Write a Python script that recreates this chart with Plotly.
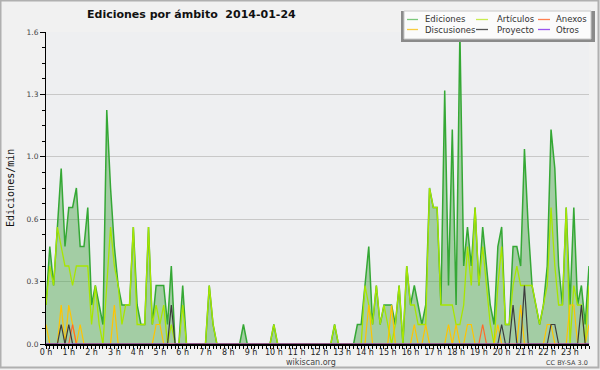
import plotly.graph_objects as go

# ---- data (10-minute steps, edits per minute) ----
minutes = list(range(0, 1440, 10))

ediciones = [
    0.2, 0.5, 0.3, 0.6, 0.9, 0.5,   # 0h
    0.7, 0.7, 0.8, 0.5, 0.5, 0.7,   # 1h
    0.2, 0.3, 0.2, 0.1, 1.2, 0.8,   # 2h
    0.5, 0.3, 0.2, 0.2, 0.2, 0.6,   # 3h
    0.2, 0.1, 0.1, 0.6, 0.1, 0.3,   # 4h
    0.3, 0.3, 0.1, 0.4, 0.0, 0.0,   # 5h
    0.3, 0.0, 0.0, 0.0, 0.0, 0.0,   # 6h
    0.0, 0.3, 0.1, 0.0, 0.0, 0.0,   # 7h
    0.0, 0.0, 0.0, 0.0, 0.1, 0.0,   # 8h
    0.0, 0.0, 0.0, 0.0, 0.0, 0.0,   # 9h
    0.1, 0.0, 0.0, 0.0, 0.0, 0.0,   # 10h
    0.0, 0.0, 0.0, 0.0, 0.0, 0.0,   # 11h
    0.0, 0.0, 0.0, 0.0, 0.1, 0.0,   # 12h
    0.0, 0.0, 0.0, 0.0, 0.1, 0.1,   # 13h
    0.3, 0.5, 0.1, 0.3, 0.1, 0.2,   # 14h
    0.2, 0.2, 0.1, 0.3, 0.0, 0.4,   # 15h
    0.2, 0.3, 0.2, 0.1, 0.2, 0.8,   # 16h
    0.7, 0.7, 0.2, 1.3, 0.3, 1.1,   # 17h
    0.2, 1.6, 0.4, 0.6, 0.4, 0.7,   # 18h
    0.3, 0.6, 0.4, 0.2, 0.1, 0.5,   # 19h
    0.6, 0.1, 0.1, 0.5, 0.5, 0.4,   # 20h
    1.0, 0.6, 0.3, 0.2, 0.1, 0.2,   # 21h
    0.4, 1.1, 0.9, 0.4, 0.2, 0.7,   # 22h
    0.2, 0.7, 0.2, 0.3, 0.1, 0.4,   # 23h
]

articulos = [
    0.2, 0.4, 0.3, 0.6, 0.5, 0.4,   # 0h
    0.4, 0.3, 0.4, 0.4, 0.4, 0.4,   # 1h
    0.1, 0.3, 0.1, 0.0, 0.3, 0.6,   # 2h
    0.4, 0.3, 0.1, 0.2, 0.2, 0.6,   # 3h
    0.1, 0.1, 0.1, 0.6, 0.1, 0.2,   # 4h
    0.1, 0.2, 0.0, 0.1, 0.0, 0.0,   # 5h
    0.2, 0.0, 0.0, 0.0, 0.0, 0.0,   # 6h
    0.0, 0.3, 0.1, 0.0, 0.0, 0.0,   # 7h
    0.0, 0.0, 0.0, 0.0, 0.0, 0.0,   # 8h
    0.0, 0.0, 0.0, 0.0, 0.0, 0.0,   # 9h
    0.1, 0.0, 0.0, 0.0, 0.0, 0.0,   # 10h
    0.0, 0.0, 0.0, 0.0, 0.0, 0.0,   # 11h
    0.0, 0.0, 0.0, 0.0, 0.1, 0.0,   # 12h
    0.0, 0.0, 0.0, 0.0, 0.0, 0.0,   # 13h
    0.3, 0.2, 0.1, 0.3, 0.1, 0.2,   # 14h
    0.1, 0.0, 0.1, 0.3, 0.0, 0.4,   # 15h
    0.2, 0.2, 0.1, 0.1, 0.1, 0.8,   # 16h
    0.7, 0.7, 0.2, 0.2, 0.2, 0.2,   # 17h
    0.1, 0.1, 0.2, 0.5, 0.3, 0.7,   # 18h
    0.3, 0.5, 0.3, 0.1, 0.0, 0.3,   # 19h
    0.5, 0.1, 0.1, 0.3, 0.4, 0.3,   # 20h
    0.3, 0.3, 0.3, 0.2, 0.1, 0.2,   # 21h
    0.3, 0.7, 0.4, 0.2, 0.2, 0.7,   # 22h
    0.0, 0.3, 0.2, 0.2, 0.0, 0.3,   # 23h
]

discusiones = [
    0.1, 0.0, 0.0, 0.0, 0.2, 0.0,   # 0h
    0.2, 0.1, 0.0, 0.1, 0.0, 0.0,   # 1h
    0.0, 0.0, 0.0, 0.0, 0.0, 0.0,   # 2h
    0.2, 0.0, 0.0, 0.0, 0.0, 0.0,   # 3h
    0.0, 0.0, 0.0, 0.0, 0.0, 0.1,   # 4h
    0.1, 0.0, 0.0, 0.0, 0.0, 0.0,   # 5h
    0.0, 0.0, 0.0, 0.0, 0.0, 0.0,   # 6h
    0.0, 0.0, 0.0, 0.0, 0.0, 0.0,   # 7h
    0.0, 0.0, 0.0, 0.0, 0.0, 0.0,   # 8h
    0.0, 0.0, 0.0, 0.0, 0.0, 0.0,   # 9h
    0.0, 0.0, 0.0, 0.0, 0.0, 0.0,   # 10h
    0.0, 0.0, 0.0, 0.0, 0.0, 0.0,   # 11h
    0.0, 0.0, 0.0, 0.0, 0.0, 0.0,   # 12h
    0.0, 0.0, 0.0, 0.0, 0.0, 0.0,   # 13h
    0.0, 0.2, 0.0, 0.0, 0.0, 0.0,   # 14h
    0.0, 0.2, 0.0, 0.0, 0.0, 0.0,   # 15h
    0.0, 0.1, 0.0, 0.0, 0.1, 0.0,   # 16h
    0.0, 0.0, 0.0, 0.0, 0.1, 0.0,   # 17h
    0.1, 0.0, 0.0, 0.1, 0.1, 0.0,   # 18h
    0.0, 0.0, 0.0, 0.0, 0.0, 0.1,   # 19h
    0.0, 0.0, 0.0, 0.0, 0.0, 0.2,   # 20h
    0.0, 0.0, 0.0, 0.0, 0.0, 0.0,   # 21h
    0.1, 0.1, 0.0, 0.0, 0.0, 0.0,   # 22h
    0.2, 0.2, 0.0, 0.0, 0.0, 0.1,   # 23h
]

anexos = [
    0.0, 0.0, 0.0, 0.0, 0.0, 0.0,   # 0h
    0.0, 0.1, 0.0, 0.0, 0.0, 0.0,   # 1h
    0.0, 0.0, 0.0, 0.0, 0.0, 0.0,   # 2h
    0.0, 0.0, 0.0, 0.0, 0.0, 0.0,   # 3h
    0.0, 0.0, 0.0, 0.0, 0.0, 0.0,   # 4h
    0.0, 0.0, 0.0, 0.0, 0.0, 0.0,   # 5h
    0.0, 0.0, 0.0, 0.0, 0.0, 0.0,   # 6h
    0.0, 0.0, 0.0, 0.0, 0.0, 0.0,   # 7h
    0.0, 0.0, 0.0, 0.0, 0.0, 0.0,   # 8h
    0.0, 0.0, 0.0, 0.0, 0.0, 0.0,   # 9h
    0.0, 0.0, 0.0, 0.0, 0.0, 0.0,   # 10h
    0.0, 0.0, 0.0, 0.0, 0.0, 0.0,   # 11h
    0.0, 0.0, 0.0, 0.0, 0.0, 0.0,   # 12h
    0.0, 0.0, 0.0, 0.0, 0.0, 0.0,   # 13h
    0.0, 0.0, 0.0, 0.0, 0.0, 0.0,   # 14h
    0.0, 0.0, 0.0, 0.0, 0.0, 0.0,   # 15h
    0.0, 0.0, 0.0, 0.0, 0.0, 0.0,   # 16h
    0.0, 0.0, 0.0, 0.0, 0.0, 0.0,   # 17h
    0.0, 0.0, 0.0, 0.0, 0.0, 0.0,   # 18h
    0.0, 0.1, 0.0, 0.0, 0.0, 0.0,   # 19h
    0.0, 0.0, 0.0, 0.0, 0.0, 0.0,   # 20h
    0.0, 0.0, 0.0, 0.0, 0.0, 0.0,   # 21h
    0.0, 0.0, 0.0, 0.0, 0.0, 0.0,   # 22h
    0.0, 0.0, 0.0, 0.0, 0.0, 0.0,   # 23h
]

proyecto = [
    0.0, 0.0, 0.0, 0.0, 0.1, 0.0,   # 0h
    0.1, 0.0, 0.0, 0.0, 0.0, 0.0,   # 1h
    0.0, 0.0, 0.0, 0.0, 0.0, 0.0,   # 2h
    0.0, 0.0, 0.0, 0.0, 0.0, 0.0,   # 3h
    0.0, 0.0, 0.0, 0.0, 0.0, 0.0,   # 4h
    0.0, 0.0, 0.0, 0.2, 0.0, 0.0,   # 5h
    0.0, 0.0, 0.0, 0.0, 0.0, 0.0,   # 6h
    0.0, 0.0, 0.0, 0.0, 0.0, 0.0,   # 7h
    0.0, 0.0, 0.0, 0.0, 0.0, 0.0,   # 8h
    0.0, 0.0, 0.0, 0.0, 0.0, 0.0,   # 9h
    0.0, 0.0, 0.0, 0.0, 0.0, 0.0,   # 10h
    0.0, 0.0, 0.0, 0.0, 0.0, 0.0,   # 11h
    0.0, 0.0, 0.0, 0.0, 0.0, 0.0,   # 12h
    0.0, 0.0, 0.0, 0.0, 0.0, 0.0,   # 13h
    0.0, 0.0, 0.0, 0.0, 0.0, 0.0,   # 14h
    0.0, 0.0, 0.0, 0.0, 0.0, 0.0,   # 15h
    0.0, 0.0, 0.0, 0.0, 0.0, 0.0,   # 16h
    0.0, 0.0, 0.0, 0.0, 0.0, 0.0,   # 17h
    0.0, 0.0, 0.0, 0.0, 0.0, 0.0,   # 18h
    0.0, 0.0, 0.0, 0.0, 0.0, 0.0,   # 19h
    0.1, 0.0, 0.0, 0.2, 0.0, 0.0,   # 20h
    0.3, 0.0, 0.0, 0.0, 0.0, 0.0,   # 21h
    0.0, 0.1, 0.1, 0.0, 0.0, 0.0,   # 22h
    0.0, 0.0, 0.0, 0.2, 0.0, 0.0,   # 23h
]

otros = [
    0.0, 0.0, 0.0, 0.0, 0.0, 0.0, 0.0, 0.0, 0.0, 0.0, 0.0, 0.0,
    0.0, 0.0, 0.0, 0.0, 0.0, 0.0, 0.0, 0.0, 0.0, 0.0, 0.0, 0.0,
    0.0, 0.0, 0.0, 0.0, 0.0, 0.0, 0.0, 0.0, 0.0, 0.0, 0.0, 0.0,
    0.0, 0.0, 0.0, 0.0, 0.0, 0.0, 0.0, 0.0, 0.0, 0.0, 0.0, 0.0,
    0.0, 0.0, 0.0, 0.0, 0.0, 0.0, 0.0, 0.0, 0.0, 0.0, 0.0, 0.0,
    0.0, 0.0, 0.0, 0.0, 0.0, 0.0, 0.0, 0.0, 0.0, 0.0, 0.0, 0.0,
    0.0, 0.0, 0.0, 0.0, 0.0, 0.0, 0.0, 0.0, 0.0, 0.0, 0.0, 0.0,
    0.0, 0.0, 0.0, 0.0, 0.0, 0.0, 0.0, 0.0, 0.0, 0.0, 0.0, 0.0,
    0.0, 0.0, 0.0, 0.0, 0.0, 0.0, 0.0, 0.0, 0.0, 0.0, 0.0, 0.0,
    0.0, 0.0, 0.0, 0.0, 0.0, 0.0, 0.0, 0.0, 0.0, 0.0, 0.0, 0.0,
    0.0, 0.0, 0.0, 0.0, 0.0, 0.0, 0.0, 0.0, 0.0, 0.0, 0.0, 0.0,
    0.0, 0.0, 0.0, 0.0, 0.0, 0.0, 0.0, 0.0, 0.0, 0.0, 0.0, 0.0,
]

hour_ticks = [0, 60, 120, 180, 240, 300, 360, 420, 480, 540, 600, 660,
              720, 780, 840, 900, 960, 1020, 1080, 1140, 1200, 1260, 1320, 1380]
hour_labels = ["0 h", "1 h", "2 h", "3 h", "4 h", "5 h", "6 h", "7 h", "8 h",
               "9 h", "10 h", "11 h", "12 h", "13 h", "14 h", "15 h", "16 h",
               "17 h", "18 h", "19 h", "20 h", "21 h", "22 h", "23 h"]
y_ticks = [0.0, 0.32, 0.64, 0.96, 1.28, 1.6]
y_labels = ["0.0", "0.3", "0.6", "1.0", "1.3", "1.6"]

legend_names = [["Ediciones", "Artículos", "Anexos"],
                ["Discusiones", "Proyecto", "Otros"]]

# ---- layout geometry (pixels) ----
W, H = 600, 370
L, R, T, B = 46, 11, 32, 26
PW, PH = W - L - R, H - T - B


def px(x):
    return (x - L) / PW


def py(y):
    return (H - B - y) / PH


C_ED_LINE = "#35a835"
C_ED_FILL = "rgba(70,165,70,0.45)"
C_ART = "#a8e600"
C_DIS = "#ffc400"
C_ANX = "#ff6a2a"
C_PRO = "#3c3c3c"
C_OTR = "#9a4cf0"

fig = go.Figure()
fig.add_trace(go.Scatter(x=minutes, y=ediciones, mode="lines", fill="tozeroy",
                         fillcolor=C_ED_FILL, line=dict(color=C_ED_LINE, width=1.5),
                         name="Ediciones", showlegend=False))
fig.add_trace(go.Scatter(x=minutes, y=articulos, mode="lines",
                         line=dict(color=C_ART, width=1.3), name="Artículos", showlegend=False))
fig.add_trace(go.Scatter(x=minutes, y=discusiones, mode="lines",
                         line=dict(color=C_DIS, width=1.2), name="Discusiones", showlegend=False))
fig.add_trace(go.Scatter(x=minutes, y=anexos, mode="lines",
                         line=dict(color=C_ANX, width=1.2), name="Anexos", showlegend=False))
fig.add_trace(go.Scatter(x=minutes, y=proyecto, mode="lines",
                         line=dict(color=C_PRO, width=1.2), name="Proyecto", showlegend=False))
fig.add_trace(go.Scatter(x=minutes, y=otros, mode="lines",
                         line=dict(color=C_OTR, width=1.2), name="Otros", showlegend=False))

shapes = []
annotations = []

# outer frame
shapes.append(dict(type="rect", xref="paper", yref="paper",
                   x0=px(0.5), x1=px(598.5), y0=py(0.5), y1=py(367.5),
                   line=dict(color="#b0b0b0", width=2), fillcolor="rgba(0,0,0,0)", layer="below"))

# legend box with shadow
shapes.append(dict(type="rect", xref="paper", yref="paper",
                   x0=px(401), x1=px(595), y0=py(11), y1=py(42),
                   line=dict(width=0), fillcolor="#8a8a8a", layer="above"))
shapes.append(dict(type="rect", xref="paper", yref="paper",
                   x0=px(404), x1=px(591), y0=py(11), y1=py(39),
                   line=dict(color="#c8c8c8", width=1), fillcolor="#fbfbfb", layer="above"))

legend_colors = [["#7cc87c", "#c8ec50", "#ff8050"],
                 ["#f8cc40", "#555555", "#9a55ee"]]
col_sw = [(407, 418), (476, 488), (538, 550)]
col_tx = [423, 495, 554]
row_y = [19.5, 29.5]
for r in range(2):
    for c in range(3):
        shapes.append(dict(type="line", xref="paper", yref="paper",
                           x0=px(col_sw[c][0]), x1=px(col_sw[c][1]),
                           y0=py(row_y[r]), y1=py(row_y[r]),
                           line=dict(color=legend_colors[r][c], width=1.3), layer="above"))
        annotations.append(dict(text=legend_names[r][c], xref="paper", yref="paper",
                                x=px(col_tx[c]), y=py(row_y[r]), xanchor="left", yanchor="middle",
                                showarrow=False,
                                font=dict(family="DejaVu Sans", size=8.5, color="#333333")))

# title
annotations.append(dict(text="Ediciones por ámbito \u00a02014-01-24", xref="paper", yref="paper",
                        x=px(85), y=py(15), xanchor="left", yanchor="middle", showarrow=False,
                        font=dict(family="DejaVu Sans", size=11, color="#111111", weight="bold")))
# y axis title
annotations.append(dict(text="Ediciones/min", xref="paper", yref="paper",
                        x=px(10), y=py(188), xanchor="center", yanchor="middle", showarrow=False,
                        textangle=-90,
                        font=dict(family="DejaVu Sans Mono", size=10, color="#111111")))
# footer texts
annotations.append(dict(text="wikiscan.org", xref="paper", yref="paper",
                        x=px(311), y=py(362.5), xanchor="center", yanchor="middle", showarrow=False,
                        font=dict(family="DejaVu Sans", size=8, color="#444444")))
annotations.append(dict(text="CC BY-SA 3.0", xref="paper", yref="paper",
                        x=px(590), y=py(362.5), xanchor="right", yanchor="middle", showarrow=False,
                        font=dict(family="DejaVu Sans", size=6.5, color="#444444")))

fig.update_layout(
    width=W, height=H, autosize=False,
    margin=dict(l=L, r=R, t=T, b=B, pad=0, autoexpand=False),
    paper_bgcolor="#f1f1f1",
    plot_bgcolor="#eeeff1",
    showlegend=False,
    shapes=shapes,
    annotations=annotations,
    xaxis=dict(range=[0, 1430], tickmode="array", tickvals=hour_ticks, ticktext=hour_labels,
               showgrid=False, zeroline=False, showline=True, linecolor="#000000", linewidth=1.5,
               ticks="outside", ticklen=3, tickwidth=1, tickcolor="#000000",
               ticklabelstandoff=-3,
               tickfont=dict(family="DejaVu Sans", size=8, color="#222222"),
               minor=dict(dtick=10, tick0=0, ticks="outside", ticklen=3, tickwidth=1,
                          tickcolor="#000000", showgrid=False),
               automargin=False, layer="above traces", fixedrange=True),
    yaxis=dict(range=[0, 1.6], tickmode="array", tickvals=y_ticks, ticktext=y_labels,
               showgrid=True, gridcolor="#c8c8c8", gridwidth=1, zeroline=False,
               showline=True, linecolor="#000000", linewidth=1,
               ticks="outside", ticklen=5, tickwidth=1, tickcolor="#000000",
               tickfont=dict(family="DejaVu Sans", size=7.5, color="#444444"),
               minor=dict(dtick=0.08, tick0=0, ticks="outside", ticklen=3, tickwidth=1,
                          tickcolor="#000000", showgrid=False),
               automargin=False, layer="above traces", fixedrange=True),
)

fig.write_html("out.html",
               config={"displayModeBar": False, "responsive": False},
               post_script="document.body.style.margin='0px';document.body.style.overflow='hidden';")
